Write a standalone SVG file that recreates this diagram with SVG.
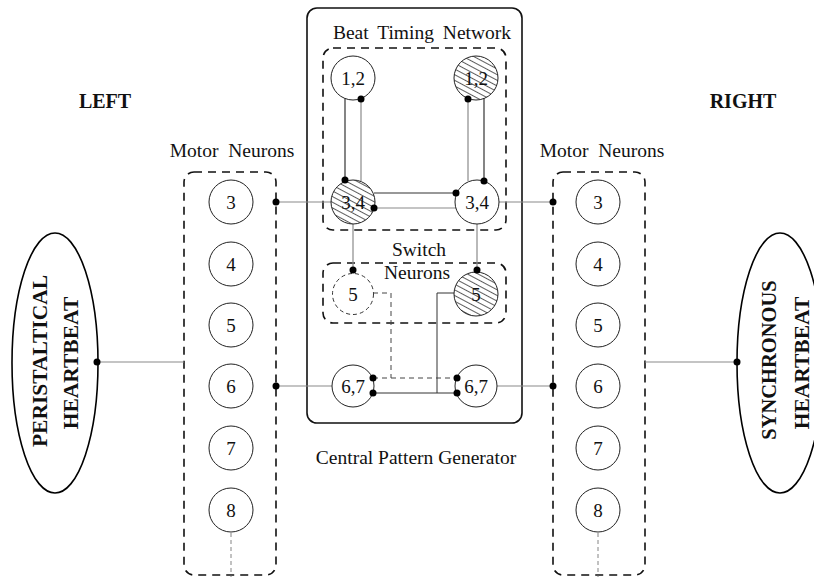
<svg xmlns="http://www.w3.org/2000/svg" width="814" height="577" viewBox="0 0 814 577">
<defs>
<pattern id="hatch" patternUnits="userSpaceOnUse" width="6" height="5" patternTransform="rotate(28)">
<line x1="0" y1="2.5" x2="6" y2="2.5" stroke="#333" stroke-width="0.8"/>
</pattern>
<style>
text{font-family:"Liberation Serif","Times New Roman",serif;fill:#111}
.lbl{font-size:19.5px;text-anchor:middle}
.num{font-size:19px;text-anchor:middle}
.bold{font-weight:bold}
.big{font-size:21.5px;font-weight:bold;text-anchor:middle}
.neuron{fill:#fff;stroke:#222;stroke-width:1}
.hatched{fill:url(#hatch);stroke:#222;stroke-width:1}
.dbox{fill:none;stroke:#111;stroke-width:1.6;stroke-dasharray:8,6}
.gray{stroke:#8a8a8a;stroke-width:1.2;fill:none}
.dark{stroke:#333;stroke-width:1.2;fill:none}
.dot{fill:#000}
</style>
</defs>

<g id="labels">
<text x="105" y="108" class="bold" style="font-size:20px;text-anchor:middle">LEFT</text>
<text x="743" y="108" class="bold" style="font-size:20px;text-anchor:middle">RIGHT</text>
<text x="416" y="464" class="lbl">Central Pattern Generator</text>
</g>

<g id="cpg">
<rect x="307" y="8" width="215" height="415" rx="10" fill="none" stroke="#111" stroke-width="1.6"/>
</g>

<g id="btn">
<rect x="323" y="48" width="183" height="182" rx="10" class="dbox"/>
<text x="422" y="39" class="lbl" style="word-spacing:4px">Beat Timing Network</text>
</g>

<g id="switch">
<rect x="323" y="263" width="183" height="60" rx="10" class="dbox"/>
<text x="419" y="256" class="lbl">Switch</text>
<text x="417" y="279" class="lbl">Neurons</text>
</g>

<g id="mn-left">
<rect x="184" y="172" width="92" height="403" rx="10" class="dbox"/>
<text x="232" y="157" class="lbl" style="word-spacing:5px">Motor Neurons</text>
</g>
<g id="mn-right">
<rect x="553" y="172" width="92" height="403" rx="10" class="dbox"/>
<text x="602" y="157" class="lbl" style="word-spacing:5px">Motor Neurons</text>
</g>

<g id="connectors">
<line x1="276" y1="202" x2="331" y2="202" class="gray"/>
<line x1="499" y1="202" x2="553" y2="202" class="gray"/>
<line x1="276" y1="386" x2="332" y2="386" class="gray"/>
<line x1="497" y1="386" x2="553" y2="386" class="gray"/>
<line x1="97" y1="362" x2="184" y2="362" class="gray"/>
<line x1="645" y1="362" x2="737" y2="362" class="gray"/>
<line x1="345" y1="98" x2="345" y2="180" class="dark"/>
<line x1="361" y1="99" x2="361" y2="181" class="gray"/>
<line x1="468" y1="99" x2="468" y2="181" class="gray"/>
<line x1="484" y1="98" x2="484" y2="181" class="dark"/>
<line x1="374" y1="193" x2="456" y2="193" class="dark"/>
<line x1="374" y1="208" x2="456" y2="208" class="gray"/>
<line x1="353" y1="224" x2="353" y2="270" class="gray"/>
<line x1="477" y1="224" x2="477" y2="270" class="gray"/>
<polyline points="373,293 391,293 391,378" style="fill:none;stroke:#444;stroke-dasharray:5,4;stroke-width:1"/>
<line x1="373" y1="378" x2="457" y2="378" style="stroke:#444;stroke-dasharray:5,4;stroke-width:1"/>
<polyline points="454,293 437,293 437,393" class="dark" style="stroke-width:1"/>
<line x1="373" y1="393" x2="457" y2="393" class="dark" style="stroke-width:1"/>
<line x1="231" y1="533" x2="231" y2="577" stroke="#666" stroke-width="0.8" stroke-dasharray="4,3"/>
<line x1="598" y1="533" x2="598" y2="577" stroke="#666" stroke-width="0.8" stroke-dasharray="4,3"/>
</g>

<g id="peristaltical">
<ellipse cx="55" cy="363" rx="43" ry="130" fill="#fff" stroke="#000" stroke-width="1.6"/>
<text transform="translate(47,361) rotate(-90)" class="big">PERISTALTICAL</text>
<text transform="translate(78,363) rotate(-90)" class="big">HEARTBEAT</text>
</g>
<g id="synchronous">
<ellipse cx="780" cy="363" rx="43" ry="130" fill="#fff" stroke="#000" stroke-width="1.6"/>
<text transform="translate(776,360) rotate(-90)" class="big" style="font-size:20.5px">SYNCHRONOUS</text>
<text transform="translate(809,363) rotate(-90)" class="big">HEARTBEAT</text>
</g>

<g id="n12-left"><circle cx="353" cy="78" r="22" class="neuron"/><text x="353" y="84.5" class="num">1,2</text></g>
<g id="n12-right"><circle cx="476" cy="78" r="22" class="hatched"/><text x="476" y="84.5" class="num">1,2</text></g>
<g id="n34-left"><circle cx="353" cy="202" r="22" class="hatched"/><text x="353" y="208.5" class="num">3,4</text></g>
<g id="n34-right"><circle cx="477" cy="202" r="22" class="neuron"/><text x="477" y="208.5" class="num">3,4</text></g>
<g id="n5-left"><circle cx="353" cy="294" r="20.5" fill="#fff" stroke="#333" stroke-width="1" stroke-dasharray="4,3"/><text x="353" y="300.5" class="num">5</text></g>
<g id="n5-right"><circle cx="476" cy="294" r="22" class="hatched"/><text x="476" y="300.5" class="num">5</text></g>
<g id="n67-left"><circle cx="353" cy="386" r="21" class="neuron"/><text x="353" y="392.5" class="num">6,7</text></g>
<g id="n67-right"><circle cx="476" cy="386" r="21" class="neuron"/><text x="476" y="392.5" class="num">6,7</text></g>

<g id="mnl-3"><circle cx="231" cy="202" r="22" class="neuron"/><text x="231" y="208.5" class="num">3</text></g>
<g id="mnl-4"><circle cx="231" cy="264" r="22" class="neuron"/><text x="231" y="270.5" class="num">4</text></g>
<g id="mnl-5"><circle cx="231" cy="325" r="22" class="neuron"/><text x="231" y="331.5" class="num">5</text></g>
<g id="mnl-6"><circle cx="231" cy="386" r="22" class="neuron"/><text x="231" y="392.5" class="num">6</text></g>
<g id="mnl-7"><circle cx="231" cy="448" r="22" class="neuron"/><text x="231" y="454.5" class="num">7</text></g>
<g id="mnl-8"><circle cx="231" cy="510" r="22" class="neuron"/><text x="231" y="516.5" class="num">8</text></g>
<g id="mnr-3"><circle cx="598" cy="202" r="22" class="neuron"/><text x="598" y="208.5" class="num">3</text></g>
<g id="mnr-4"><circle cx="598" cy="264" r="22" class="neuron"/><text x="598" y="270.5" class="num">4</text></g>
<g id="mnr-5"><circle cx="598" cy="325" r="22" class="neuron"/><text x="598" y="331.5" class="num">5</text></g>
<g id="mnr-6"><circle cx="598" cy="386" r="22" class="neuron"/><text x="598" y="392.5" class="num">6</text></g>
<g id="mnr-7"><circle cx="598" cy="448" r="22" class="neuron"/><text x="598" y="454.5" class="num">7</text></g>
<g id="mnr-8"><circle cx="598" cy="510" r="22" class="neuron"/><text x="598" y="516.5" class="num">8</text></g>

<g id="dots">
<circle cx="276" cy="202" r="3.5" class="dot"/>
<circle cx="553" cy="202" r="3.5" class="dot"/>
<circle cx="276" cy="386" r="3.5" class="dot"/>
<circle cx="553" cy="386" r="3.5" class="dot"/>
<circle cx="97" cy="362" r="3.5" class="dot"/>
<circle cx="737" cy="362" r="3.5" class="dot"/>
<circle cx="361" cy="99" r="3.5" class="dot"/>
<circle cx="345" cy="180" r="3.5" class="dot"/>
<circle cx="468" cy="99" r="3.5" class="dot"/>
<circle cx="484" cy="181" r="3.5" class="dot"/>
<circle cx="456" cy="193" r="3.5" class="dot"/>
<circle cx="374" cy="208" r="3.5" class="dot"/>
<circle cx="353" cy="270" r="3.5" class="dot"/>
<circle cx="477" cy="270" r="3.5" class="dot"/>
<circle cx="373" cy="378" r="3.5" class="dot"/>
<circle cx="373" cy="393" r="3.5" class="dot"/>
<circle cx="457" cy="378" r="3.5" class="dot"/>
<circle cx="457" cy="393" r="3.5" class="dot"/>
</g>
</svg>
